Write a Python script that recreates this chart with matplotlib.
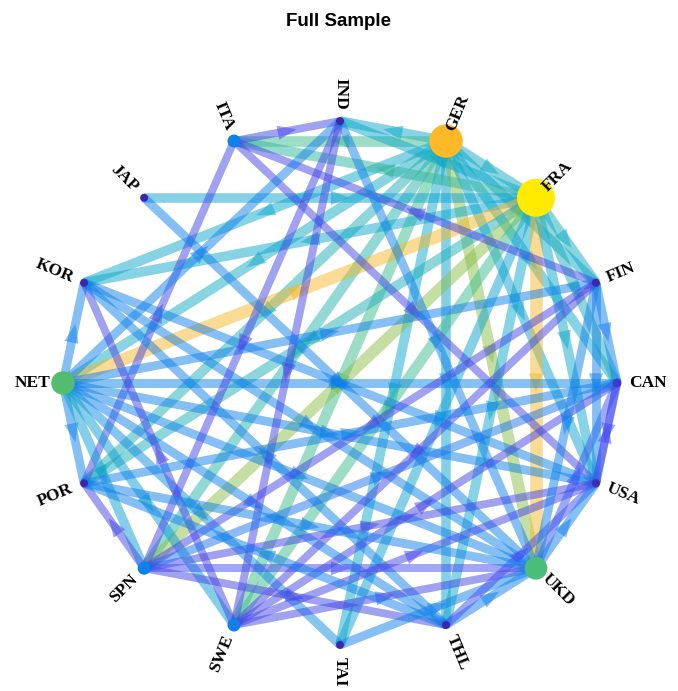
import numpy as np
import matplotlib.pyplot as plt
from matplotlib.colors import LinearSegmentedColormap
from matplotlib.patches import FancyArrowPatch

# countries, clockwise from the top
nodes = ['IND', 'GER', 'FRA', 'FIN', 'CAN', 'USA', 'UKD', 'THL',
         'TAI', 'SWE', 'SPN', 'POR', 'NET', 'KOR', 'JAP', 'ITA']
# node strength (0..1), drives node size and colour
strength = [0.0, 0.88, 1.0, 0.0, 0.06, 0.02, 0.58, 0.0,
            0.0, 0.25, 0.25, 0.0, 0.6, 0.0, 0.0, 0.25]

# directed edges: source -> target, weight (0..1)
src = ['GER', 'GER', 'GER', 'GER', 'GER', 'GER', 'GER', 'GER', 'GER', 'GER', 'GER', 'GER', 'GER', 'GER',
       'FRA', 'FRA', 'JAP', 'FRA', 'NET', 'FRA', 'SPN', 'FRA', 'FRA', 'FRA', 'FRA', 'FRA', 'FRA', 'FRA',
       'ITA', 'POR', 'ITA', 'FIN',
       'NET', 'NET', 'NET', 'NET', 'NET', 'NET', 'NET', 'NET', 'NET', 'NET', 'NET',
       'SWE', 'KOR', 'KOR', 'THL',
       'IND', 'IND', 'IND', 'JAP',
       'SPN', 'SPN', 'SPN', 'SPN', 'SPN',
       'SWE', 'SWE', 'SWE',
       'TAI', 'THL', 'THL', 'USA', 'UKD', 'UKD', 'FIN', 'FIN', 'FIN', 'FIN', 'FIN',
       'POR', 'POR', 'THL', 'CAN']
dst = ['IND', 'ITA', 'FRA', 'KOR', 'NET', 'POR', 'SPN', 'SWE', 'TAI', 'THL', 'UKD', 'USA', 'CAN', 'FIN',
       'IND', 'ITA', 'FRA', 'KOR', 'FRA', 'POR', 'FRA', 'SWE', 'TAI', 'THL', 'UKD', 'USA', 'CAN', 'FIN',
       'IND', 'ITA', 'USA', 'ITA',
       'KOR', 'POR', 'CAN', 'USA', 'UKD', 'THL', 'TAI', 'SWE', 'SPN', 'FIN', 'IND',
       'KOR', 'USA', 'UKD', 'KOR',
       'SPN', 'SWE', 'UKD', 'UKD',
       'POR', 'USA', 'UKD', 'THL', 'CAN',
       'USA', 'CAN', 'UKD',
       'UKD', 'UKD', 'USA', 'CAN', 'CAN', 'USA', 'UKD', 'USA', 'SPN', 'SWE', 'CAN',
       'UKD', 'CAN', 'POR', 'USA']
weight = [0.40, 0.55, 0.42, 0.40, 0.42, 0.45, 0.48, 0.55, 0.40, 0.38, 0.70, 0.38, 0.40, 0.40,
          0.40, 0.50, 0.38, 0.40, 0.86, 0.45, 0.70, 0.55, 0.38, 0.40, 0.86, 0.40, 0.45, 0.42,
          0.10, 0.10, 0.10, 0.10,
          0.25, 0.25, 0.28, 0.25, 0.25, 0.25, 0.30, 0.36, 0.36, 0.25, 0.25,
          0.10, 0.25, 0.25, 0.25,
          0.10, 0.10, 0.25, 0.25,
          0.10, 0.10, 0.12, 0.10, 0.22,
          0.10, 0.10, 0.10,
          0.25, 0.25, 0.12, 0.12, 0.15, 0.25, 0.25, 0.25, 0.10, 0.10, 0.25,
          0.25, 0.25, 0.25, 0.12]

# parula-like colormap
parula = LinearSegmentedColormap.from_list('parula', [
    (0.00, (0.24, 0.15, 0.66)),
    (0.12, (0.27, 0.30, 0.95)),
    (0.25, (0.06, 0.50, 0.92)),
    (0.40, (0.05, 0.66, 0.80)),
    (0.55, (0.25, 0.74, 0.55)),
    (0.65, (0.40, 0.74, 0.32)),
    (0.78, (0.75, 0.76, 0.25)),
    (0.88, (1.00, 0.72, 0.15)),
    (1.00, (1.00, 0.92, 0.00))])

fig = plt.figure(figsize=(6.78, 6.91), dpi=100)
ax = fig.add_axes([0.052, 0.0287, 0.899, 0.834])
ax.set_xlim(-1.1, 1.1)
ax.set_ylim(-1.1, 1.1)
ax.axis('off')

ang = np.deg2rad(90 - 22.5 * np.arange(len(nodes)))
pos = {n: (np.cos(a), np.sin(a)) for n, a in zip(nodes, ang)}

for s, d, w in zip(src, dst, weight):
    x0, y0 = pos[s]
    x1, y1 = pos[d]
    c = parula(w)
    ax.plot([x0, x1], [y0, y1], color=c, lw=5.2 + 4.5 * w, alpha=0.5,
            solid_capstyle='butt', zorder=1)
    mx, my = (x0 + x1) / 2, (y0 + y1) / 2
    L = np.hypot(x1 - x0, y1 - y0)
    ux, uy = (x1 - x0) / L, (y1 - y0) / L
    ax.add_patch(FancyArrowPatch((mx - 0.03 * ux, my - 0.03 * uy), (mx + 0.035 * ux, my + 0.035 * uy),
                                 arrowstyle='-|>,head_length=0.85,head_width=0.32', mutation_scale=16,
                                 lw=0, color=c, alpha=0.5, shrinkA=0, shrinkB=0, zorder=1))

st = np.array(strength)
diam_px = 8 + 30 * st ** 1.3
xs = [pos[n][0] for n in nodes]
ys = [pos[n][1] for n in nodes]
ax.scatter(xs, ys, s=(diam_px * 0.72) ** 2, c=parula(st), edgecolors='none', zorder=3)

for n, a in zip(nodes, 90 - 22.5 * np.arange(len(nodes))):
    a = ((a + 180) % 360) - 180
    x, y = pos[n]
    tx, ty = x + 0.045 * np.cos(np.deg2rad(a)), y + 0.045 * np.sin(np.deg2rad(a))
    if a >= 90 or a < -90:
        rot, ha = a - 180, 'right'
    else:
        rot, ha = a, 'left'
    ax.text(tx, ty, n, rotation=rot, ha=ha, va='center', rotation_mode='anchor',
            fontsize=12.5, fontweight='bold', family='Liberation Serif', zorder=4)

fig.text(0.5, 1 - 21 / 691, 'Full Sample', ha='center', va='center',
         fontsize=13.5, fontweight='bold', family='Liberation Sans')

fig.savefig('out.png', dpi=100)
